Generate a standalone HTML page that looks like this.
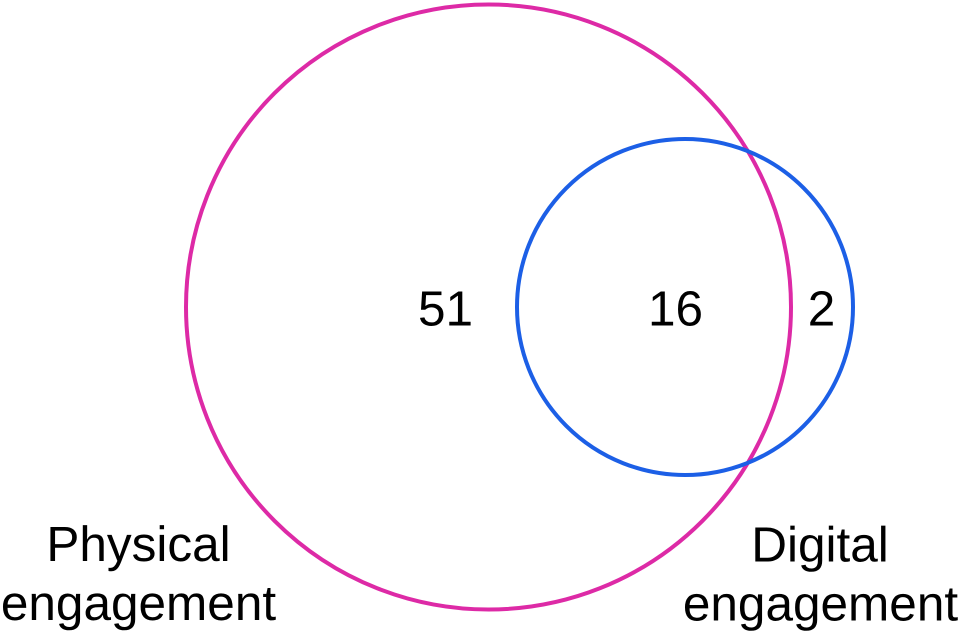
<!DOCTYPE html>
<html>
<head>
<meta charset="utf-8">
<style>
html,body{margin:0;padding:0;background:#fff;width:960px;height:640px;overflow:hidden}
svg{display:block}
text{font-family:"Liberation Sans",Arial,sans-serif;font-size:49.5px;fill:#000;text-rendering:geometricPrecision}
</style>
</head>
<body>
<svg width="960" height="640" viewBox="0 0 960 640" xmlns="http://www.w3.org/2000/svg">
<rect width="960" height="640" fill="#fff"/>
<circle cx="488.5" cy="307" r="302.5" fill="none" stroke="#dd2aa6" stroke-width="4"/>
<circle cx="685" cy="307" r="168" fill="none" stroke="#1c5fe6" stroke-width="4"/>
<text x="445.5" y="325.5" text-anchor="middle">51</text>
<text x="675.5" y="325.5" text-anchor="middle">16</text>
<text x="821.5" y="325.5" text-anchor="middle">2</text>
<text x="138.5" y="561" text-anchor="middle">Physical</text>
<text x="138.5" y="620" text-anchor="middle">engagement</text>
<text x="820" y="561.5" text-anchor="middle">Digital</text>
<text x="820.5" y="620.5" text-anchor="middle">engagement</text>
</svg>
</body>
</html>
